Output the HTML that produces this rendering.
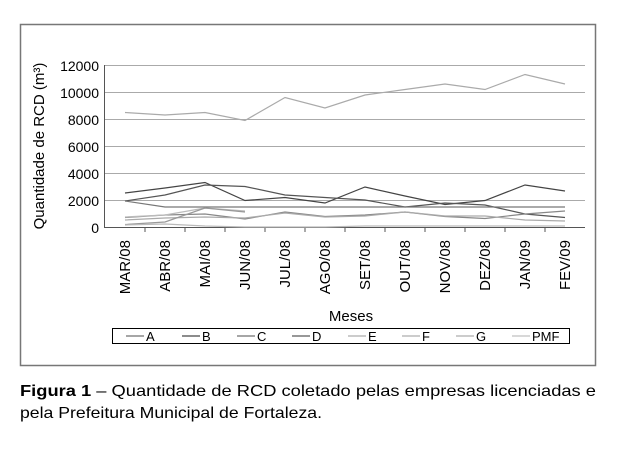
<!DOCTYPE html>
<html><head><meta charset="utf-8"><style>
body{margin:0;background:#fff;width:629px;height:452px;overflow:hidden;font-family:"Liberation Sans",sans-serif}
</style></head><body>
<svg width="629" height="452" xmlns="http://www.w3.org/2000/svg" font-family="Liberation Sans, sans-serif">
<rect x="20.5" y="24.5" width="575" height="341" fill="none" stroke="#777" stroke-width="1.5"/>
<g stroke="#aaa" stroke-width="1">
<line x1="104" y1="65.5" x2="585" y2="65.5"/><line x1="104" y1="92.5" x2="585" y2="92.5"/>
<line x1="104" y1="119.5" x2="585" y2="119.5"/><line x1="104" y1="146.5" x2="585" y2="146.5"/>
<line x1="104" y1="173.5" x2="585" y2="173.5"/><line x1="104" y1="200.5" x2="585" y2="200.5"/>
</g>
<g stroke="#555" stroke-width="1">
<line x1="104.5" y1="65" x2="104.5" y2="228"/><line x1="104" y1="227.5" x2="585" y2="227.5"/>
<line x1="145" y1="227" x2="145" y2="232"/><line x1="185" y1="227" x2="185" y2="232"/><line x1="225" y1="227" x2="225" y2="232"/><line x1="265" y1="227" x2="265" y2="232"/><line x1="305" y1="227" x2="305" y2="232"/><line x1="345" y1="227" x2="345" y2="232"/><line x1="385" y1="227" x2="385" y2="232"/><line x1="425" y1="227" x2="425" y2="232"/><line x1="465" y1="227" x2="465" y2="232"/><line x1="505" y1="227" x2="505" y2="232"/><line x1="545" y1="227" x2="545" y2="232"/>
</g>
<g font-size="14" text-anchor="end" fill="#000">
<text x="99" y="71">12000</text><text x="99" y="98">10000</text><text x="99" y="125">8000</text><text x="99" y="152">6000</text><text x="99" y="179">4000</text><text x="99" y="206">2000</text><text x="99" y="233">0</text>
</g>
<text transform="translate(44,146) rotate(-90)" font-size="15" text-anchor="middle">Quantidade de RCD (m³)</text>
<g font-size="15" text-anchor="end">
<text transform="translate(130,240) rotate(-90)">MAR/08</text><text transform="translate(170,240) rotate(-90)">ABR/08</text><text transform="translate(210,240) rotate(-90)">MAI/08</text><text transform="translate(250,240) rotate(-90)">JUN/08</text><text transform="translate(290,240) rotate(-90)">JUL/08</text><text transform="translate(330,240) rotate(-90)">AGO/08</text><text transform="translate(370,240) rotate(-90)">SET/08</text><text transform="translate(410,240) rotate(-90)">OUT/08</text><text transform="translate(450,240) rotate(-90)">NOV/08</text><text transform="translate(490,240) rotate(-90)">DEZ/08</text><text transform="translate(530,240) rotate(-90)">JAN/09</text><text transform="translate(570,240) rotate(-90)">FEV/09</text>
</g>
<text x="351" y="321" font-size="15" text-anchor="middle">Meses</text>
<g fill="none" stroke-width="1.2">
<polyline stroke="#aaa" points="125,112.5 165,115 205,112.5 245,120.5 285,97.5 325,108 365,95 405,89.5 445,84 485,89.5 525,74.5 565,84"/>
<polyline stroke="#444" points="125,193 165,188 205,182.5 245,200.5 285,197.5 325,203 365,187 405,196 445,204.5 485,200.5 525,185 565,191"/>
<polyline stroke="#555" points="125,201 165,195 205,185 245,186.5 285,195 325,197.5 365,200 405,207 445,203 485,205 525,214 565,217.5"/>
<polyline stroke="#777" points="125,201 165,207 205,207 245,207 285,207 325,207 365,207 405,207 445,207 485,207 525,207 565,207"/>
<polyline stroke="#888" points="125,217.5 165,215 205,214 245,219 285,212 325,216.5 365,215 405,212 445,216.5 485,218.5 525,214 565,211"/>
<polyline stroke="#bbb" points="125,217 165,215 205,208 245,211"/>
<polyline stroke="#aaa" points="125,220 165,218 205,217 245,218 285,213 325,217 365,216 405,212 445,216 485,216 525,220 565,221"/>
<polyline stroke="#999" points="125,224.5 165,222 205,208 245,212"/>
<polyline stroke="#bbb" points="125,225 165,224 205,226 245,227 285,227 325,227 365,226 405,226 445,226 485,226 525,226 565,226"/>
</g>
<rect x="112.5" y="328.5" width="457" height="15" fill="none" stroke="#000"/>
<g font-size="13">
<line x1="126" y1="336" x2="144" y2="336" stroke="#888" stroke-width="1.5"/><text x="146" y="341">A</text>
<line x1="182" y1="336" x2="200" y2="336" stroke="#666" stroke-width="1.5"/><text x="202" y="341">B</text>
<line x1="237" y1="336" x2="255" y2="336" stroke="#888" stroke-width="1.5"/><text x="257" y="341">C</text>
<line x1="292" y1="336" x2="310" y2="336" stroke="#777" stroke-width="1.5"/><text x="312" y="341">D</text>
<line x1="348" y1="336" x2="366" y2="336" stroke="#bbb" stroke-width="1.5"/><text x="368" y="341">E</text>
<line x1="402" y1="336" x2="420" y2="336" stroke="#bbb" stroke-width="1.5"/><text x="422" y="341">F</text>
<line x1="456" y1="336" x2="474" y2="336" stroke="#bbb" stroke-width="1.5"/><text x="476" y="341">G</text>
<line x1="512" y1="336" x2="530" y2="336" stroke="#ccc" stroke-width="1.5"/><text x="532" y="341">PMF</text>
</g>
<text x="20" y="396" font-size="16" textLength="576" lengthAdjust="spacingAndGlyphs"><tspan font-weight="bold">Figura 1</tspan> – Quantidade de RCD coletado pelas empresas licenciadas e</text>
<text x="20" y="418" font-size="16" textLength="302" lengthAdjust="spacingAndGlyphs">pela Prefeitura Municipal de Fortaleza.</text>
</svg>
</body></html>
